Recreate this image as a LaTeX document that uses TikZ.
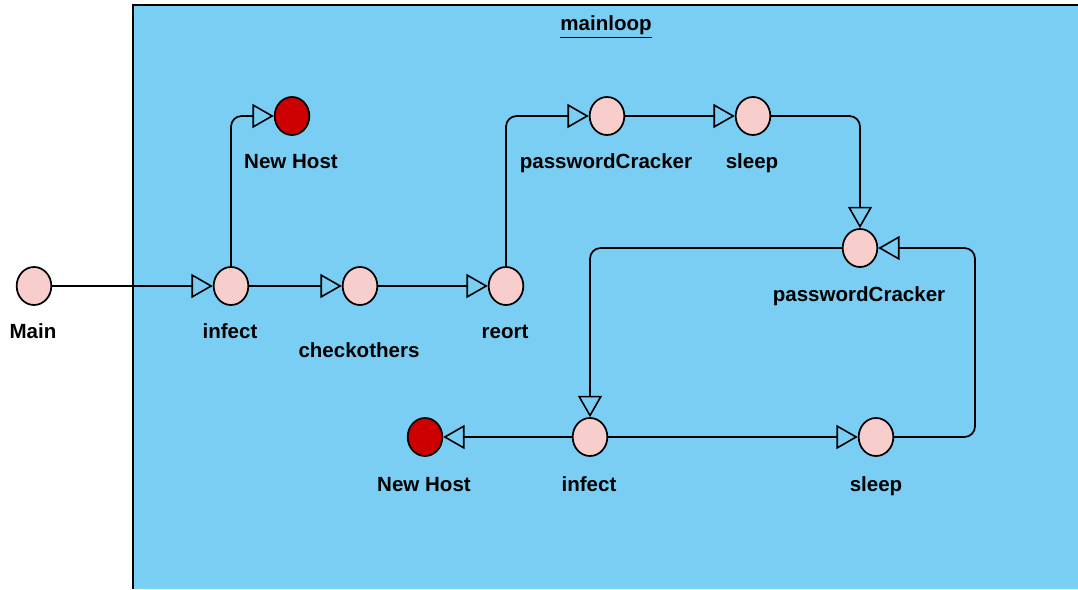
\documentclass[tikz,border=0pt]{standalone}
\usepackage{fontspec}
\setmainfont{Liberation Sans}
\usetikzlibrary{arrows.meta,shapes.geometric}
\definecolor{bgblue}{RGB}{122,206,244}
\definecolor{pinkfill}{RGB}{248,206,204}
\definecolor{hostred}{RGB}{204,0,0}
\tikzset{
  state/.style={ellipse,draw=black,line width=1.3pt,fill=pinkfill,minimum width=26pt,minimum height=28.5pt,inner sep=0pt},
  hoststate/.style={state,fill=hostred},
  lbl/.style={anchor=base,inner sep=0pt,font=\fontsize{15.4}{18}\selectfont\bfseries},
  flow/.style={line width=1.3pt,rounded corners=8pt,-{Triangle[open,length=16pt,width=18pt,line width=1.2pt]}}
}
\begin{document}
\begin{tikzpicture}[x=0.75pt,y=-0.75pt]
\useasboundingbox (0,0) rectangle (1078,589);
% container
\fill[bgblue] (133,5) rectangle (1078,589);
\draw[line width=1.3pt] (1078,5) -- (133,5) -- (133,589);
\node[lbl,anchor=center] (title) at (606,27) {\underline{mainloop}};
% states
\node[state] (main) at (34,286) {};
\node[state] (inf1) at (231,286) {};
\node[hoststate] (nh1) at (292,116) {};
\node[state] (chk) at (360,286) {};
\node[state] (reort) at (506,286) {};
\node[state] (pc1) at (607,116) {};
\node[state] (sl1) at (753,116) {};
\node[state] (pc2) at (860,248) {};
\node[state] (inf2) at (590,437) {};
\node[hoststate] (nh2) at (425,437) {};
\node[state] (sl2) at (876,437) {};
% labels
\node[lbl] (lmain) at (33,338) {Main};
\node[lbl] (linf1) at (230,338) {infect};
\node[lbl] (lnh1) at (291,168) {New Host};
\node[lbl] (lchk) at (359,357) {checkothers};
\node[lbl] (lreort) at (505,338) {reort};
\node[lbl] (lpc1) at (606,168) {passwordCracker};
\node[lbl] (lsl1) at (752,168) {sleep};
\node[lbl] (lpc2) at (859,301) {passwordCracker};
\node[lbl] (linf2) at (589,491) {infect};
\node[lbl] (lnh2) at (424,491) {New Host};
\node[lbl] (lsl2) at (876,491) {sleep};
% connectors
\coordinate (loopc) at (975,437);
\draw[flow] (main) -- (inf1);
\draw[flow] (inf1.north) |- (nh1.west);
\draw[flow] (inf1) -- (chk);
\draw[flow] (chk) -- (reort);
\draw[flow] (reort.north) |- (pc1.west);
\draw[flow] (pc1) -- (sl1);
\draw[flow] (sl1.east) -| (pc2.north);
\draw[flow] (pc2.west) -| (inf2.north);
\draw[flow] (inf2) -- (nh2);
\draw[flow] (inf2) -- (sl2);
\draw[flow] (sl2.east) -- (loopc) |- (pc2.east);
\end{tikzpicture}
\end{document}
